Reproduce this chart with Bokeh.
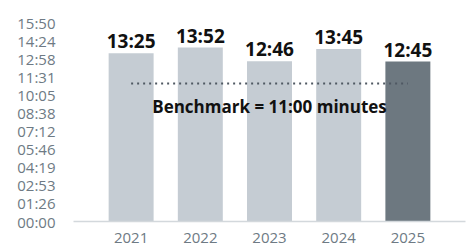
from bokeh.plotting import figure
from bokeh.models import FactorRange, Range1d, FixedTicker, CustomJSTickFormatter, ColumnDataSource
from bokeh.embed import file_html
from bokeh.resources import INLINE
from bokeh.core.properties import value

# ---- data ----
years = ["2021", "2022", "2023", "2024", "2025"]
seconds = [805, 832, 766, 825, 765]          # 13:25, 13:52, 12:46, 13:45, 12:45
bar_colors = ["#c5ccd3", "#c5ccd3", "#c5ccd3", "#c5ccd3", "#6d7880"]
benchmark = 660                                # 11:00
benchmark_text = "Benchmark = 11:00 minutes"
ytick_step = 86.4
ytick_labels = ["00:00", "01:26", "02:53", "04:19", "05:46", "07:12",
                "08:38", "10:05", "11:31", "12:58", "14:24", "15:50"]

labels = ["%02d:%02d" % (s // 60, s % 60) for s in seconds]
src = ColumnDataSource(dict(x=years, y=seconds, c=bar_colors, t=labels))

FONT = "Open Sans"

p = figure(frame_width=392, frame_height=221, output_backend="svg", toolbar_location=None,
           x_range=FactorRange(factors=years, range_padding=0.333, range_padding_units="absolute"),
           y_range=Range1d(0, 1057),
           min_border_left=73, min_border_right=1, min_border_top=0, min_border_bottom=26)
p.outline_line_color = None
p.grid.grid_line_color = None
p.background_fill_color = "white"
p.border_fill_color = "white"

p.vbar(x="x", top="y", width=0.65, color="c", source=src, line_color=None)

p.text(x="x", y="y", text="t", source=src, text_align="center", text_baseline="alphabetic",
       y_offset=-12, text_font=value(FONT), text_font_style="bold", text_font_size="19px",
       text_color="#111111")

p.line(x=[years[0], years[-1]], y=[benchmark, benchmark], line_color="#4f5862",
       line_width=2, line_dash="2 4")
p.text(x=[years[2]], y=[benchmark], text=[benchmark_text], text_align="center",
       text_baseline="alphabetic", y_offset=23, text_font=value(FONT),
       text_font_style="bold", text_font_size="17px", text_color="#111111")

# axes
p.yaxis.ticker = FixedTicker(ticks=[i * ytick_step for i in range(len(ytick_labels))])
p.yaxis.formatter = CustomJSTickFormatter(args=dict(labels=ytick_labels, step=ytick_step),
                                          code="return labels[Math.round(tick/step)];")
p.yaxis.axis_line_color = None
p.yaxis.major_tick_line_color = None
p.yaxis.minor_tick_line_color = None
p.yaxis.major_label_standoff = 12
p.yaxis.major_label_text_font = FONT
p.yaxis.major_label_text_font_size = "15px"
p.yaxis.major_label_text_color = "#6e7a84"

p.xaxis.axis_line_color = "#d3d8dc"
p.xaxis.axis_line_width = 1.5
p.xaxis.major_tick_line_color = None
p.xaxis.minor_tick_line_color = None
p.xaxis.major_label_standoff = 5
p.xaxis.major_label_text_font = FONT
p.xaxis.major_label_text_font_size = "15px"
p.xaxis.major_label_text_color = "#6e7a84"

open("out.html", "w").write(file_html(p, INLINE))
